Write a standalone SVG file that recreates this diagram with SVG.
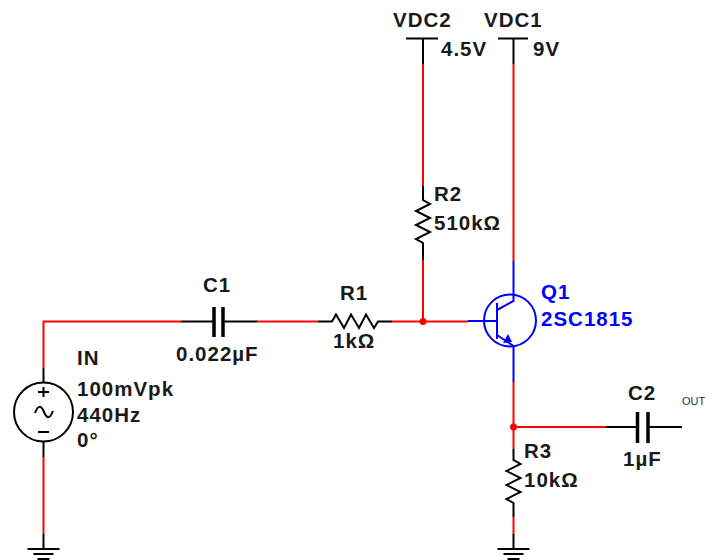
<svg xmlns="http://www.w3.org/2000/svg" width="709" height="560" viewBox="0 0 709 560">
<style>
.w{fill:none;stroke-width:2}
.r{stroke:#f00}.k{stroke:#000}.b{stroke:#00f}
.z{fill:none;stroke:#000;stroke-width:2}
.zb{fill:none;stroke:#00f;stroke-width:2}
.p{fill:none;stroke:#000;stroke-width:3.5}
text{font-family:"Liberation Sans",Arial,sans-serif;font-weight:bold;font-size:20.5px;letter-spacing:1px;fill:#1a1a1a}
.bl{fill:#00f}
</style>
<defs>
<g id="gnd"><path class="z" d="M0 0V14M-16 15H16M-10 20H10M-6 25H6"/></g>
</defs>
<rect width="709" height="560" fill="#fff"/>
<g id="connectors">
<path class="w r" d="M43.5 368V321.500H181"/>
<path class="w r" d="M43.500 457V534"/>
<path class="w r" d="M257 321.500H318"/>
<path class="w r" d="M392 321.500H468"/>
<path class="w r" d="M423 64V186"/>
<path class="w r" d="M423 260V321"/>
<path class="w r" d="M513.500 64V261"/>
<path class="w r" d="M513.500 382V449"/>
<path class="w r" d="M513.500 517V534"/>
<path class="w r" d="M513.500 427H606"/>
<circle cx="423" cy="321.500" r="3.500" fill="#f00"/>
<circle cx="513.500" cy="427" r="3.500" fill="#f00"/>
</g>
<g id="IN">
<path class="z" d="M43.500 368V382M43.500 442V457"/>
<circle class="z" cx="43.500" cy="412" r="29.500"/>
<path class="z" d="M38 392H49M43.500 387V397M38 432H49M35 413C38 405 41 405 44 412S50 419 53 411"/>
<use href="#gnd" x="43.500" y="534"/>
<text x="77" y="365">IN</text>
<text x="77" y="396">100mVpk</text>
<text x="77" y="422">440Hz</text>
<text x="77" y="447">0°</text>
</g>
<g id="C1">
<path class="z" d="M181 321.500H214M223 321.500H257"/>
<path class="p" d="M214 307V337M223 307V337"/>
<text x="203" y="292">C1</text>
<text x="176" y="361">0.022µF</text>
</g>
<g id="R1">
<path class="z" d="M318 321.500H332L336 314.500L344 328L351 314.500L359 328L366 314.500L374 328L378 321.500H392"/>
<text x="340" y="300">R1</text>
<text x="333" y="348">1kΩ</text>
</g>
<g id="R2">
<path class="z" d="M423 186V200L430 204L416 211L430 218L416 225L430 232L416 239L423 243V260"/>
<text x="434" y="201">R2</text>
<text x="434" y="230">510kΩ</text>
</g>
<g id="VDC2">
<path class="z" d="M406 38.500H438M423 38.500V64"/>
<text x="393" y="27">VDC2</text>
<text x="441" y="56">4.5V</text>
</g>
<g id="VDC1">
<path class="z" d="M498 38.500H528M513.500 38.500V64"/>
<text x="484" y="27">VDC1</text>
<text x="533" y="56">9V</text>
</g>
<g id="Q1">
<circle class="zb" cx="510" cy="320.500" r="26"/>
<path class="zb" d="M513.500 261V301L497 310M468 321H497M497 303V339M497 335L513.500 346V382"/>
<path d="M503 343L512 342L508 334Z" fill="#00f"/>
<text class="bl" x="541" y="299">Q1</text>
<text class="bl" x="541" y="326">2SC1815</text>
</g>
<g id="R3">
<path class="z" d="M513.500 449V460L520.500 464L506.500 471L520.500 478L506.500 485L520.500 492L506.500 499L513.500 503V517"/>
<use href="#gnd" x="513.500" y="534"/>
<text x="524" y="458">R3</text>
<text x="524" y="487">10kΩ</text>
</g>
<g id="C2">
<path class="z" d="M606 427H637M648 427H682"/>
<path class="p" d="M637.500 412V443M648 412V443"/>
<text x="628" y="400">C2</text>
<text x="623" y="466">1µF</text>
</g>
<g id="OUT">
<text x="682" y="405" style="font-weight:normal;font-size:11px;letter-spacing:0;fill:#333">OUT</text>
</g>
</svg>
